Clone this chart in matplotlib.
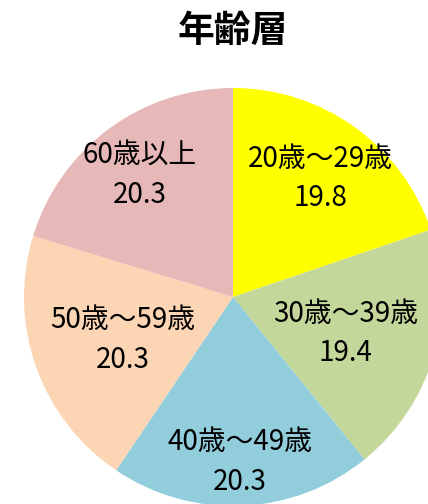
import numpy as np
import matplotlib
matplotlib.use("Agg")
import matplotlib.pyplot as plt

plt.rcParams['font.family'] = ['Noto Sans CJK JP', 'DejaVu Sans']

title = "年齢層"
categories = ["20歳～29歳", "30歳～39歳", "40歳～49歳", "50歳～59歳", "60歳以上"]
values = [19.8, 19.4, 20.3, 20.3, 20.3]
colors = ["#FFFF00", "#C4D79B", "#92CDDC", "#FCD5B4", "#E6B8B7"]
label_frac = [0.72, 0.56, 0.77, 0.56, 0.75]

W, H = 428, 504
fig = plt.figure(figsize=(W / 100, H / 100), dpi=100)
ax = fig.add_axes([0, 0, 1, 1])

cx, cy, r = 233, H - 297, 209
wedges, _ = ax.pie(values, colors=colors, startangle=90, counterclock=False,
                   center=(cx, cy), radius=r, frame=True,
                   wedgeprops=dict(linewidth=0))
ax.set_xlim(0, W)
ax.set_ylim(0, H)
ax.set_aspect('equal')
ax.axis('off')

for w, cat, val, f in zip(wedges, categories, values, label_frac):
    ang = np.deg2rad((w.theta1 + w.theta2) / 2)
    x = cx + f * r * np.cos(ang)
    y = cy + f * r * np.sin(ang) - 4
    ax.text(x, y, f"{cat}\n{val:.1f}", ha='center', va='center',
            fontsize=20, linespacing=1.42, color='black')

ax.text(233, H - 31, title, ha='center', va='center', fontsize=26.5,
        fontweight='bold')

fig.savefig("out.png", dpi=100)
